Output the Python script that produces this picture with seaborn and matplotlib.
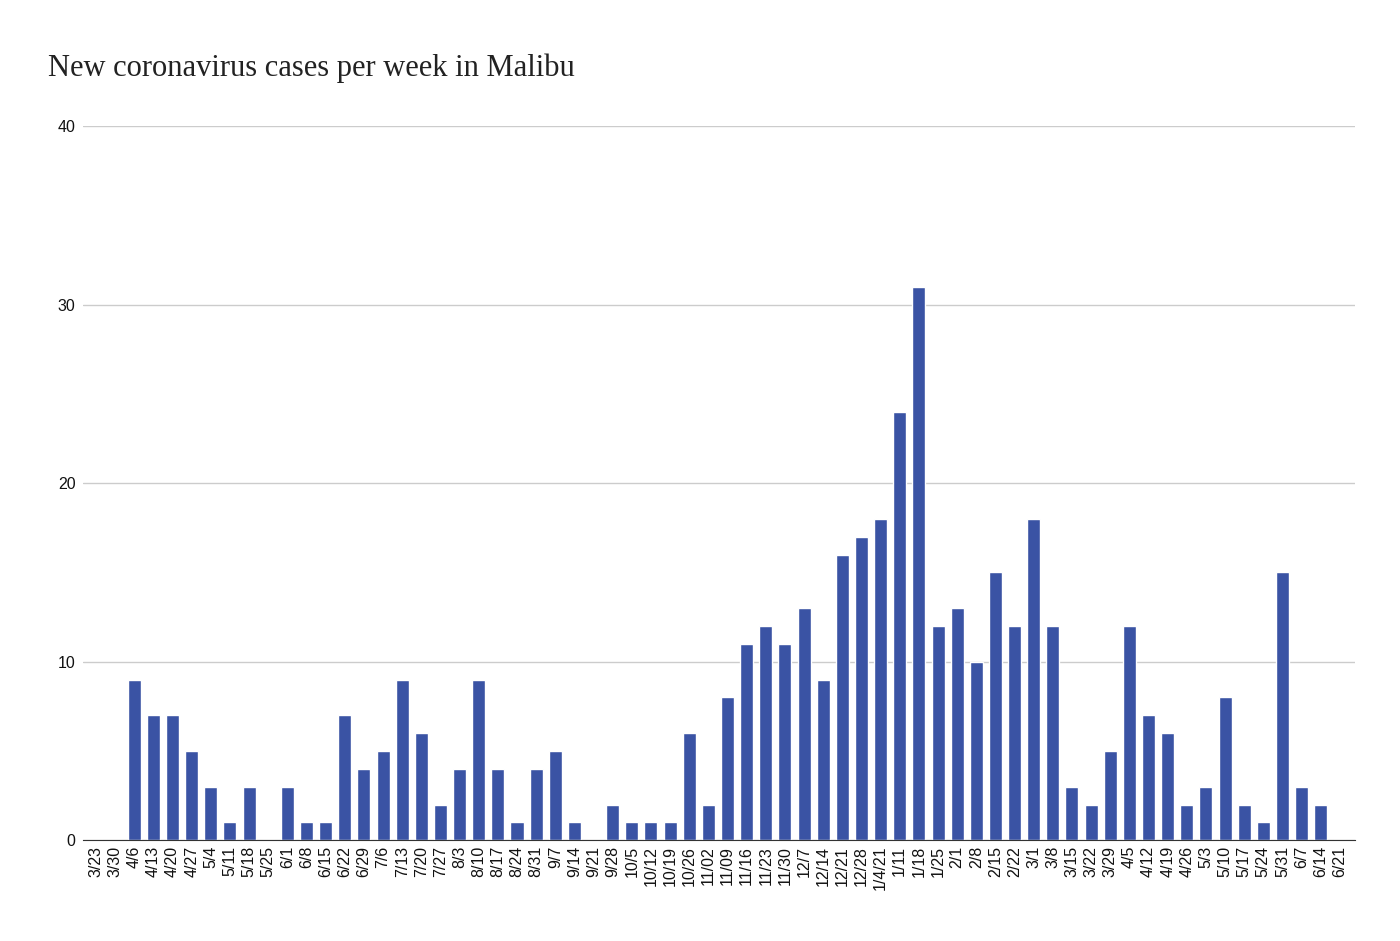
import seaborn as sns
import matplotlib.pyplot as plt
import pandas as pd

weeks = ['3/23', '3/30', '4/6', '4/13', '4/20', '4/27', '5/4', '5/11', '5/18', '5/25',
         '6/1', '6/8', '6/15', '6/22', '6/29', '7/6', '7/13', '7/20', '7/27', '8/3',
         '8/10', '8/17', '8/24', '8/31', '9/7', '9/14', '9/21', '9/28', '10/5', '10/12',
         '10/19', '10/26', '11/02', '11/09', '11/16', '11/23', '11/30', '12/7', '12/14', '12/21',
         '12/28', '1/4/21', '1/11', '1/18', '1/25', '2/1', '2/8', '2/15', '2/22', '3/1',
         '3/8', '3/15', '3/22', '3/29', '4/5', '4/12', '4/19', '4/26', '5/3', '5/10',
         '5/17', '5/24', '5/31', '6/7', '6/14', '6/21']
cases = [0, 0, 9, 7, 7, 5, 3, 1, 3, 0,
         3, 1, 1, 7, 4, 5, 9, 6, 2, 4,
         9, 4, 1, 4, 5, 1, 0, 2, 1, 1,
         1, 6, 2, 8, 11, 12, 11, 13, 9, 16,
         17, 18, 24, 31, 12, 13, 10, 15, 12, 18,
         12, 3, 2, 5, 12, 7, 6, 2, 3, 8,
         2, 1, 15, 3, 2, 0]

df = pd.DataFrame({'week': weeks, 'cases': cases})

sns.set_style('white')
plt.rcParams['font.family'] = ['Liberation Sans', 'DejaVu Sans']
fig = plt.figure(figsize=(14, 9.41), dpi=100)
ax = fig.add_axes([0.059, 0.107, 0.909, 0.759])

sns.barplot(data=df, x='week', y='cases', color='#3a53a4', saturation=1,
            width=0.68, ax=ax)

ax.set_ylim(0, 40)
ax.set_yticks([0, 10, 20, 30, 40])
ax.yaxis.grid(True, color='#cccccc', linewidth=1)
ax.set_axisbelow(True)
ax.set_xlim(-0.7, len(weeks) - 0.2)
ax.set_xlabel('')
ax.set_ylabel('')
for side in ['left', 'right', 'top']:
    ax.spines[side].set_visible(False)
ax.spines['bottom'].set_color('#333333')
ax.tick_params(axis='x', length=0, pad=4, labelsize=11.5, rotation=90, colors='#111111')
ax.tick_params(axis='y', length=0, pad=5, labelsize=11.5, colors='#111111')
for lbl in ax.get_xticklabels():
    lbl.set_horizontalalignment('center')
    lbl.set_verticalalignment('top')

fig.text(0.034, 0.919, 'New coronavirus cases per week in Malibu',
         family='Liberation Serif', fontsize=22, color='#222222', va='baseline')

fig.savefig('out.png', dpi=100)
